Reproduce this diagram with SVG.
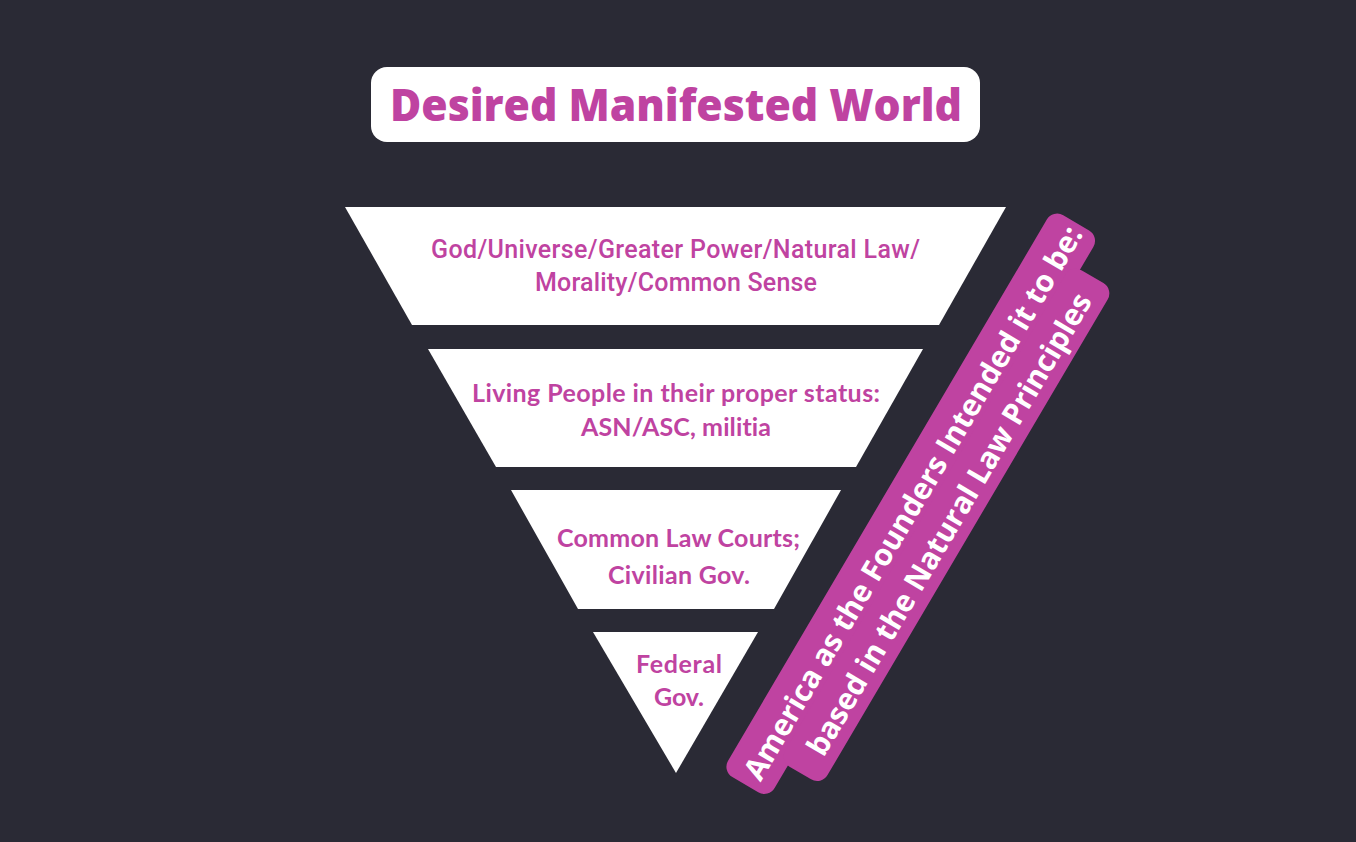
<svg xmlns="http://www.w3.org/2000/svg" width="1356" height="842" viewBox="0 0 1356 842">
  <style>
    .bg { fill: #2a2a35; }
    .white { fill: #ffffff; }
    .mag { fill: #bf43a1; }
    .title { font-family: "Open Sans", "Liberation Sans", sans-serif; font-weight: 800; font-size: 44px; fill: #bf43a1; text-anchor: middle; }
    .t1 { font-family: Roboto, "Liberation Sans", sans-serif; font-weight: 500; font-size: 25px; fill: #bf43a1; text-anchor: middle; }
    .t2 { font-family: Lato, "Open Sans", "Liberation Sans", sans-serif; font-weight: 700; font-size: 25px; fill: #bf43a1; text-anchor: middle; font-variant-ligatures: none; }
    .rib { font-family: "Open Sans", "Liberation Sans", sans-serif; font-weight: 700; font-size: 30px; fill: #ffffff; text-anchor: middle; }
  </style>
  <rect class="bg" x="0" y="0" width="1356" height="842"/>

  <g id="title">
    <rect class="white" x="371" y="67" width="609" height="75" rx="16" ry="16"/>
    <text class="title" x="676" y="121" textLength="572" lengthAdjust="spacingAndGlyphs">Desired Manifested World</text>
  </g>

  <g id="level1">
    <polygon class="white" points="345,207 1006,207 939,325 412,325"/>
    <text class="t1" x="675.5" y="258" textLength="489">God/Universe/Greater Power/Natural Law/</text>
    <text class="t1" x="676" y="291" textLength="282">Morality/Common Sense</text>
  </g>

  <g id="level2">
    <polygon class="white" points="428,349 923,349 856,467 496,467"/>
    <text class="t2" x="676" y="402" textLength="408">Living People in their proper status:</text>
    <text class="t2" x="676" y="436" textLength="190">ASN/ASC, militia</text>
  </g>

  <g id="level3">
    <polygon class="white" points="511,490 841,490 774,609 578,609"/>
    <text class="t2" x="678.5" y="547" textLength="243">Common Law Courts;</text>
    <text class="t2" x="679" y="584" textLength="142">Civilian Gov.</text>
  </g>

  <g id="level4">
    <polygon class="white" points="593,632 758,632 676,773"/>
    <text class="t2" x="679" y="673" textLength="86">Federal</text>
    <text class="t2" x="679" y="706" textLength="50">Gov.</text>
  </g>

  <g id="ribbon" transform="translate(722,771) rotate(-59.5)">
    <rect class="mag" x="0" y="0" width="652" height="54" rx="12" ry="12"/>
    <rect class="mag" x="38" y="44" width="576" height="49" rx="12" ry="12"/>
    <text class="rib" x="328" y="39">America as the Founders Intended it to be:</text>
    <text class="rib" x="328" y="81">based in the Natural Law Principles</text>
  </g>

  <g id="connectors"></g>
</svg>
